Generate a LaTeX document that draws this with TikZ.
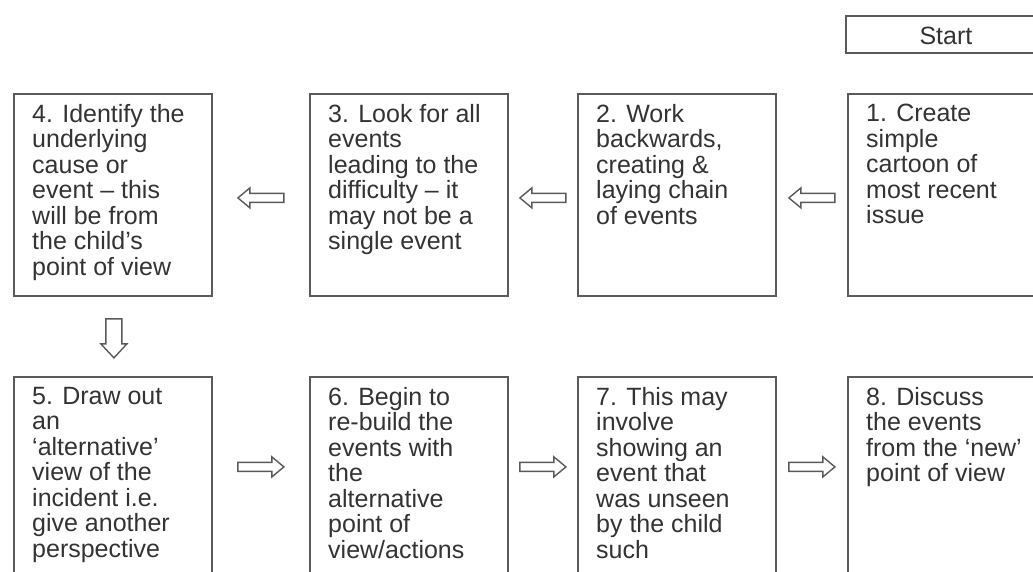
\documentclass[tikz,border=0pt]{standalone}
\usepackage{fontspec}
\setmainfont{Liberation Sans}
\usetikzlibrary{calc}
\definecolor{edge}{HTML}{5A5A5A}
\definecolor{ink}{HTML}{333333}
\begin{document}
\begin{tikzpicture}[x=1pt,y=-1pt,
  box/.style={draw=edge, line width=1.8pt, minimum width=198pt, minimum height=202pt, anchor=north west, inner sep=0pt},
  startbox/.style={draw=edge, line width=1.8pt, minimum width=200pt, minimum height=37pt, anchor=north west, inner sep=0pt, text=ink, font=\fontsize{25}{25.5}\selectfont},
  txt/.style={anchor=north west, inner sep=0pt, align=left, text=ink, font=\fontsize{25}{25.5}\selectfont, execute at begin node={\rule{0pt}{19pt}}},
  arrowline/.style={draw=edge, line width=1.4pt, line join=miter},
  larrow/.pic={\draw[arrowline] (-23,0) -- (-11,-10) -- (-11,-4.5) -- (23,-4.5) -- (23,4.5) -- (-11,4.5) -- (-11,10) -- cycle;},
  rarrow/.pic={\draw[arrowline] (23,0) -- (11,-10) -- (11,-4.5) -- (-23,-4.5) -- (-23,4.5) -- (11,4.5) -- (11,10) -- cycle;},
  darrow/.pic={\draw[arrowline] (0,19.5) -- (-13,5.5) -- (-8,5.5) -- (-8,-19.5) -- (8,-19.5) -- (8,5.5) -- (13,5.5) -- cycle;}
]
\useasboundingbox (0,0) rectangle (1033,572);
\clip (0,0) rectangle (1033,572);

% start
\node[startbox] (start) at (845,15) {};
\node[text=ink, font=\fontsize{25}{25.5}\selectfont, inner sep=0pt] (starttxt) at ($(start.center)+(0,1)$) {Start};

% top row
\node[box] (b4) at (13,93) {};
\node[box] (b3) at (309,93) {};
\node[box] (b2) at (577,93) {};
\node[box] (b1) at (847,93) {};
% bottom row
\node[box] (b5) at (13,376) {};
\node[box] (b6) at (309,376) {};
\node[box] (b7) at (577,376) {};
\node[box] (b8) at (847,376) {};

\node[txt] (t4) at ($(b4.north west)+(19,11)$) {4. Identify the\\underlying\\cause or\\event – this\\will be from\\the child’s\\point of view};
\node[txt] (t3) at ($(b3.north west)+(19,11)$) {3. Look for all\\events\\leading to the\\difficulty – it\\may not be a\\single event};
\node[txt] (t2) at ($(b2.north west)+(19,11)$) {2. Work\\backwards,\\creating \&\\laying chain\\of events};
\node[txt] (t1) at ($(b1.north west)+(19,11)$) {1. Create\\simple\\cartoon of\\most recent\\issue};
\node[txt] (t5) at ($(b5.north west)+(19,11)$) {5. Draw out\\an\\‘alternative’\\view of the\\incident i.e.\\give another\\perspective};
\node[txt] (t6) at ($(b6.north west)+(19,11)$) {6. Begin to\\re-build the\\events with\\the\\alternative\\point of\\view/actions};
\node[txt] (t7) at ($(b7.north west)+(19,11)$) {7. This may\\involve\\showing an\\event that\\was unseen\\by the child\\such};
\node[txt] (t8) at ($(b8.north west)+(19,11)$) {8. Discuss\\the events\\from the ‘new’\\point of view};

% arrows
\pic at ($(b1.west)!0.5!(b2.east)+(0,3)$) {larrow};
\pic at ($(b2.west)!0.5!(b3.east)+(0,3)$) {larrow};
\pic at ($(b3.west)!0.5!(b4.east)+(0,3)$) {larrow};
\pic at ($(b4.south)!0.5!(b5.north)+(1,2)$) {darrow};
\pic at ($(b5.east)!0.5!(b6.west)+(0,-11)$) {rarrow};
\pic at ($(b6.east)!0.5!(b7.west)+(0,-11)$) {rarrow};
\pic at ($(b7.east)!0.5!(b8.west)+(0,-11)$) {rarrow};
\end{tikzpicture}
\end{document}
